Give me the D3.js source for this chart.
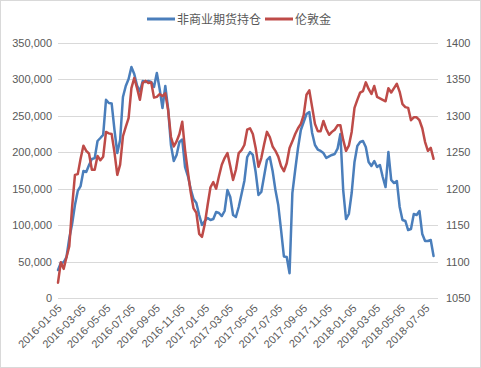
<!DOCTYPE html>
<html>
<head>
<meta charset="utf-8">
<script src="https://cdn.jsdelivr.net/npm/d3@7"></script>
<style>
  body { margin: 0; background: #fff; }
  svg { display: block; font-family: "Liberation Sans", "Noto Sans CJK SC", sans-serif; }
</style>
</head>
<body>
<svg id="chart" width="481" height="368"></svg>
<script>
// weekly (Tuesday) observations starting 2016-01-05
const startDate = '2016-01-05'
const seriesNames = ['非商业期货持仓', '伦敦金']

// non-commercial futures positions (contracts)
const positions = [
  38400, 48000, 49000, 56000, 82000, 101600, 127600, 146900, 153700, 174300,
  173000, 182500, 190800, 192000, 215500, 219600, 224000, 272000, 267600, 267000,
  230600, 199000, 216900, 275900, 291000, 300600, 317000, 307400, 291700, 283400,
  297800, 296500, 297800, 296500, 289600, 308800, 286800, 260800, 291000, 259400,
  210000, 188000, 196300, 214100, 217500, 179800, 167400, 149600, 135900, 130400,
  113900, 100200, 105700, 109800, 107000, 108400, 118000, 116700, 112500, 119400,
  148200, 138600, 113900, 111200, 124900, 142700, 160600, 193500, 200400, 196300,
  172900, 141400, 145500, 167400, 189400, 193500, 174300, 148200, 127600, 93300,
  57000, 56300, 34000, 144000, 175700, 205900, 230600, 241600, 252500, 255300,
  226500, 210000, 203800, 201800, 199000, 192200, 194400, 196300, 197600, 205000,
  225000, 148200, 108400, 115300, 144100, 186700, 208600, 214100, 215500, 207200,
  186700, 181200, 188000, 179800, 182500, 166100, 152300, 200400, 162000, 157800,
  160600, 124900, 107000, 105700, 93300, 94700, 115300, 113900, 119400, 87800,
  78200, 78200, 79600, 57600
]

// London gold price (USD/oz)
const gold = [
  1071, 1099, 1090, 1106, 1121, 1175, 1219, 1220, 1241, 1259,
  1252, 1248, 1226, 1226, 1245, 1239, 1244, 1278, 1276, 1275,
  1250, 1219, 1233, 1272, 1285, 1297, 1338, 1352, 1338, 1322,
  1345, 1348, 1345, 1346, 1325, 1326, 1330, 1327, 1331, 1308,
  1271, 1258, 1265, 1275, 1292, 1253, 1223, 1195, 1173, 1167,
  1138, 1134, 1152, 1178, 1202, 1209, 1200, 1217, 1233, 1242,
  1249, 1231, 1212, 1226, 1249, 1253, 1260, 1281, 1283, 1275,
  1256, 1230, 1242, 1261, 1278, 1271, 1258, 1252, 1244, 1231,
  1224, 1235, 1256, 1265, 1275, 1283, 1289, 1301, 1329, 1335,
  1312, 1289, 1279, 1279, 1293, 1282, 1274, 1278, 1281, 1287,
  1287, 1267, 1252, 1259, 1278, 1311, 1322, 1332, 1334, 1346,
  1337, 1330, 1341, 1326, 1324, 1322, 1320, 1338, 1332, 1338,
  1344, 1333, 1316, 1312, 1311, 1294, 1298, 1298, 1294, 1283,
  1264, 1252, 1256, 1241
]

const dateTicks = [
  '2016-01-05', '2016-03-05', '2016-05-05', '2016-07-05', '2016-09-05', '2016-11-05',
  '2017-01-05', '2017-03-05', '2017-05-05', '2017-07-05', '2017-09-05', '2017-11-05',
  '2018-01-05', '2018-03-05', '2018-05-05', '2018-07-05'
]
const leftTicks = [0, 50000, 100000, 150000, 200000, 250000, 300000, 350000]
const rightTicks = [1050, 1100, 1150, 1200, 1250, 1300, 1350, 1400]

const parse = d3.utcParse('%Y-%m-%d')
const fmt = d3.utcFormat('%Y-%m-%d')
const start = parse(startDate)
const dates = positions.map((d, i) => d3.utcDay.offset(start, i * 7))

const svg = d3.select('#chart')
const textColor = '#595959'
const blue = '#4a7ebb'
const red = '#be4b48'

svg.append('rect')
  .attr('x', 0.5).attr('y', 0.5)
  .attr('width', 480).attr('height', 367)
  .attr('fill', '#fff').attr('stroke', '#d9d9d9')

const x = d3.scaleUtc()
  .domain([start, parse('2018-08-04')])
  .range([58, 438])
const yLeft = d3.scaleLinear().domain([0, 350000]).range([298, 43])
const yRight = d3.scaleLinear().domain([1050, 1400]).range([298, 43])

// gridlines
svg.append('g')
  .selectAll('line')
  .data(leftTicks)
  .enter()
  .append('line')
  .attr('x1', 58).attr('x2', 438)
  .attr('y1', d => Math.round(yLeft(d)) + 0.5)
  .attr('y2', d => Math.round(yLeft(d)) + 0.5)
  .attr('stroke', '#d9d9d9')

// left axis
const leftAxis = svg.append('g')
  .attr('transform', 'translate(52,0)')
  .call(d3.axisLeft(yLeft).tickValues(leftTicks).tickFormat(d3.format(',')).tickSize(0).tickPadding(0))
leftAxis.select('.domain').remove()

// right axis
const rightAxis = svg.append('g')
  .attr('transform', 'translate(446,0)')
  .call(d3.axisRight(yRight).tickValues(rightTicks).tickFormat(d3.format('d')).tickSize(0).tickPadding(0))
rightAxis.select('.domain').remove()

// bottom axis
const bottomAxis = svg.append('g')
  .attr('transform', 'translate(0,298)')
  .call(d3.axisBottom(x).tickValues(dateTicks.map(parse)).tickFormat(fmt).tickSize(0))
bottomAxis.select('.domain').remove()
bottomAxis.selectAll('text')
  .attr('text-anchor', 'end')
  .attr('dy', null)
  .attr('y', 0)
  .attr('transform', 'translate(4,11) rotate(-45)')

svg.selectAll('.tick text')
  .attr('fill', textColor)
  .attr('font-size', 11)
  .attr('font-family', '"Liberation Sans", sans-serif')

const blueLine = d3.line()
  .x((d, i) => x(dates[i]))
  .y(d => yLeft(d))
const redLine = d3.line()
  .x((d, i) => x(dates[i]))
  .y(d => yRight(d))

svg.append('path')
  .datum(positions)
  .attr('d', blueLine)
  .attr('fill', 'none')
  .attr('stroke', blue)
  .attr('stroke-width', 2.5)
  .attr('stroke-linejoin', 'round')
  .attr('stroke-linecap', 'round')

svg.append('path')
  .datum(gold)
  .attr('d', redLine)
  .attr('fill', 'none')
  .attr('stroke', red)
  .attr('stroke-width', 2.5)
  .attr('stroke-linejoin', 'round')
  .attr('stroke-linecap', 'round')

// legend
const legend = svg.append('g')
  .attr('font-family', '"Noto Sans CJK SC", sans-serif')
  .attr('font-size', 12)
  .attr('fill', textColor)
const legendItems = [
  { name: seriesNames[0], color: blue, x: 147 },
  { name: seriesNames[1], color: red, x: 265 }
]
legendItems.forEach(item => {
  legend.append('line')
    .attr('x1', item.x).attr('x2', item.x + 28)
    .attr('y1', 19).attr('y2', 19)
    .attr('stroke', item.color)
    .attr('stroke-width', 3)
  legend.append('text')
    .attr('x', item.x + 30)
    .attr('y', 23.5)
    .text(item.name)
})
</script>
</body>
</html>
